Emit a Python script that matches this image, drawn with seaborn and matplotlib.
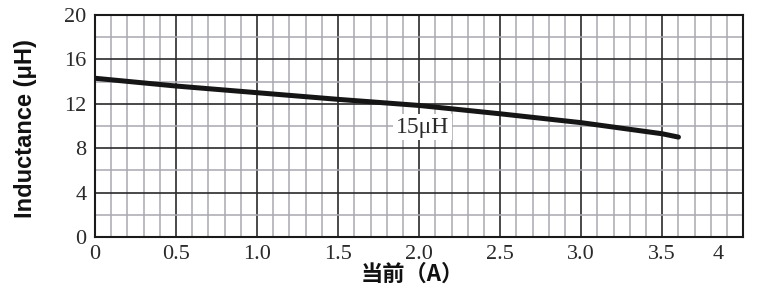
import numpy as np
import pandas as pd
import seaborn as sns
import matplotlib.pyplot as plt
from matplotlib.ticker import MultipleLocator
from matplotlib.transforms import ScaledTranslation

# values
current = [0, 0.5, 1.0, 1.5, 2.0, 2.5, 3.0, 3.5, 3.6]
inductance = [14.3, 13.6, 13.0, 12.4, 11.85, 11.1, 10.3, 9.3, 9.0]
xtick_vals = [0, 0.5, 1.0, 1.5, 2.0, 2.5, 3.0, 3.5, 4.0]
xtick_labels = ["0", "0.5", "1.0", "1.5", "2.0", "2.5", "3.0", "3.5", "4"]
ytick_vals = [0, 4, 8, 12, 16, 20]
curve_label = "15μH"

df = pd.DataFrame({"current": current, "inductance": inductance})

sns.set_style("white")
plt.rcParams["font.family"] = ["Liberation Serif", "DejaVu Serif"]

fig = plt.figure(figsize=(7.6, 2.88), dpi=100)
ax = fig.add_axes([0.125, 0.177, 0.853, 0.771])

sns.lineplot(data=df, x="current", y="inductance", ax=ax, color="#151515",
             linewidth=3.6, zorder=5)

ax.set_xlim(0, 4.0)
ax.set_ylim(0, 20)
ax.set_xticks(xtick_vals)
ax.set_xticklabels(xtick_labels)
ax.set_yticks(ytick_vals)
ax.xaxis.set_minor_locator(MultipleLocator(0.1))
ax.yaxis.set_minor_locator(MultipleLocator(2))

ax.grid(which="minor", color="#a8a8b0", linewidth=1.1, zorder=1)
ax.grid(which="major", color="#2a2a2a", linewidth=1.2, zorder=2)
ax.set_axisbelow(True)
ax.tick_params(which="both", length=0)
ax.tick_params(axis="both", labelsize=16, labelcolor="#2a2a2a")
ax.tick_params(axis="x", pad=6)
ax.tick_params(axis="y", pad=6)

for s in ax.spines.values():
    s.set_color("#1a1a1a")
    s.set_linewidth(1.5)
    s.set_visible(True)

# the "4" label sits left of the right edge in the reference
last = ax.get_xticklabels()[-1]
last.set_transform(last.get_transform() + ScaledTranslation(-0.25, 0, fig.dpi_scale_trans))

ax.text(2.02, 9.9, curve_label, fontsize=17, color="#2a2a2a", ha="center", va="center",
        bbox=dict(facecolor="white", edgecolor="none", pad=2), zorder=4)

ax.set_ylabel("Inductance (μH)", fontsize=17, fontweight="bold",
              family=["Liberation Sans", "DejaVu Sans"], color="#111111")
ax.yaxis.set_label_coords(-0.09, 0.49)
ax.set_xlabel("当前（A）", fontsize=16, fontweight="bold",
              family=["Noto Sans CJK SC", "DejaVu Sans"], color="#111111")
ax.xaxis.set_label_coords(0.49, -0.17)
ax.xaxis.label.set_verticalalignment("center")

fig.savefig("out.png", dpi=100)
